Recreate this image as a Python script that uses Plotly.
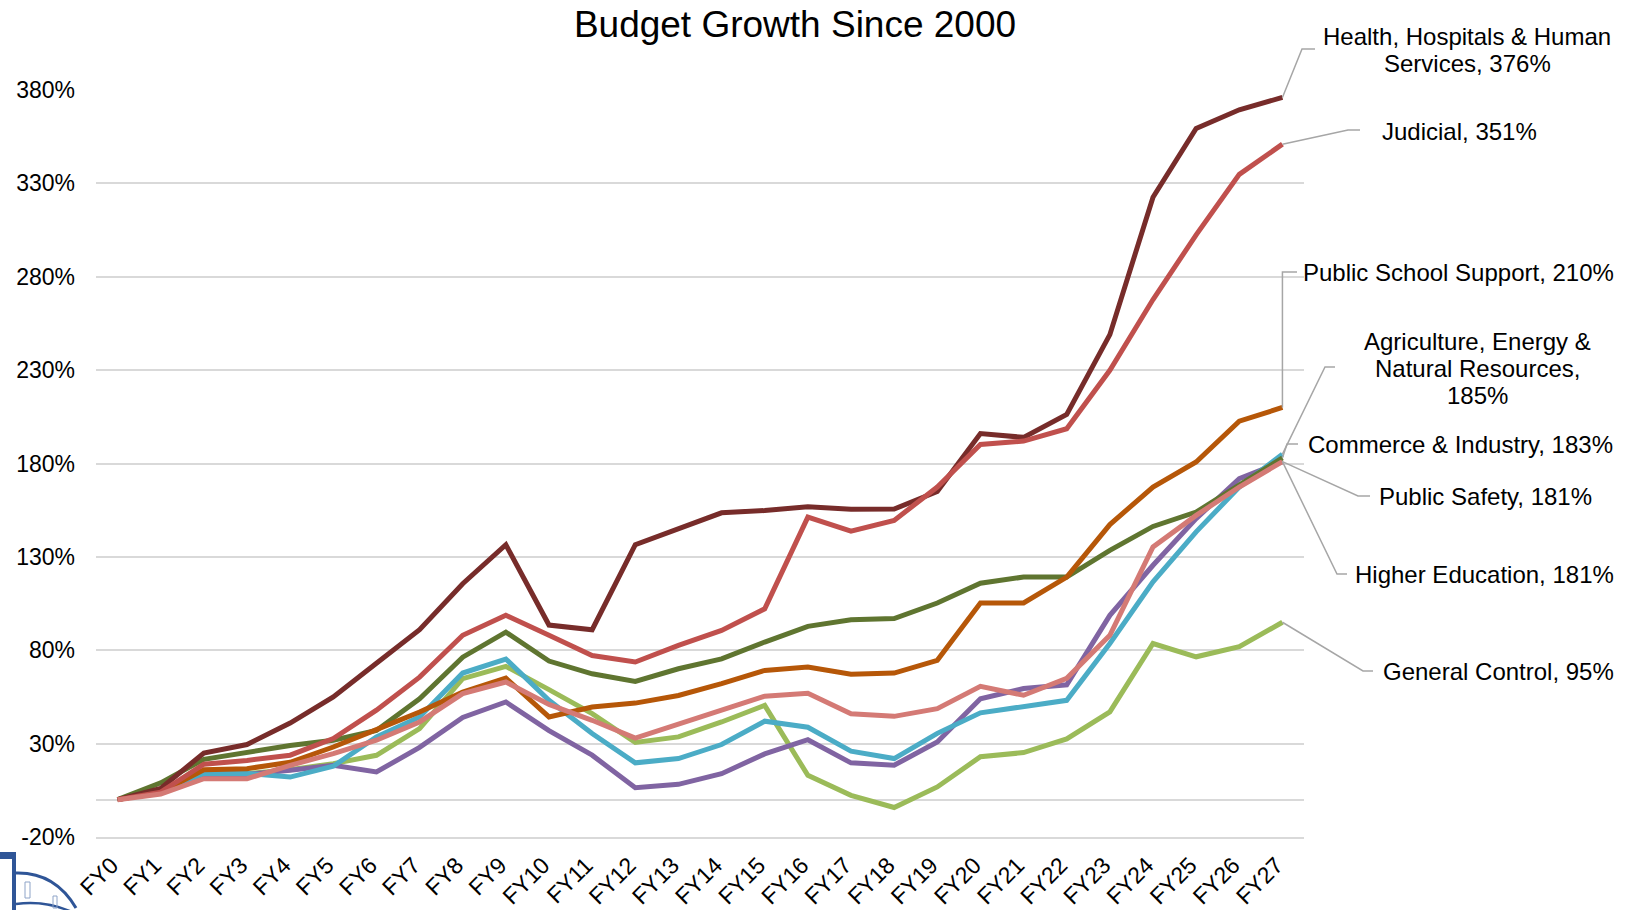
import plotly.graph_objects as go

# Fiscal-year categories and cumulative budget growth since FY0 (percent)
fiscal_years = ["FY0", "FY1", "FY2", "FY3", "FY4", "FY5", "FY6", "FY7", "FY8", "FY9",
                "FY10", "FY11", "FY12", "FY13", "FY14", "FY15", "FY16", "FY17", "FY18",
                "FY19", "FY20", "FY21", "FY22", "FY23", "FY24", "FY25", "FY26", "FY27"]

health_hospitals = [0, 6, 25, 29.5, 41, 55, 73, 91, 115.6, 136.5, 93.5, 91, 136.5, 145, 153.6,
                    154.8, 156.8, 155.5, 155.6, 165, 196, 194, 206.3, 249, 322.6, 359.4, 369.4, 376]
judicial = [0, 4, 19, 21, 23.8, 32.7, 47.9, 65.6, 88, 98.7, 88, 77.2, 73.7, 82.6, 90.6,
            102.2, 151.3, 143.8, 149.5, 167.4, 190.2, 192, 198.6, 229.9, 267.8, 302.4, 334.8, 351]
public_school = [0, 4, 16, 16.6, 20, 28.2, 37.5, 46.9, 57.6, 65.1, 44.3, 49.6, 51.7, 55.8, 62.1,
                 69.2, 71, 67.1, 67.8, 74.6, 105.3, 105.3, 119.2, 147.3, 167.4, 180.8, 202.7, 210]
agriculture = [0, 5, 14, 14, 12.1, 17.9, 33.6, 44.3, 67.8, 75.3, 53.2, 35.4, 19.7, 22, 29.5,
               42, 38.8, 26, 22, 35.5, 46.5, 50, 53.2, 83.6, 116.6, 143.4, 167.4, 185]
commerce = [0, 9, 21.6, 25.5, 29, 31.8, 37, 54, 76.3, 89.7, 74.2, 67.4, 63.3, 70.1, 75.4,
            84.4, 92.8, 96.3, 97, 105.3, 115.9, 119.2, 119.2, 133.5, 146.3, 154, 168.3, 183]
public_safety = [0, 4, 13, 13.5, 15.7, 18.4, 14.8, 28, 44, 52.3, 37, 23.8, 6.4, 8.2, 13.9,
                 24.5, 32.1, 19.7, 18.4, 30.9, 54, 59.5, 61.5, 98.7, 125.5, 150.5, 171.9, 181]
higher_education = [0, 3, 11.2, 11.2, 18.4, 24.6, 31.8, 41.6, 56.8, 63, 51, 42.5, 33, 40.5, 48,
                    55.4, 57, 46, 44.6, 48.7, 60.7, 55.9, 65, 88, 135.3, 152.2, 167.4, 181]
general_control = [0, 4, 13, 14, 16, 19.3, 23.75, 38, 64.8, 71.4, 58.9, 46.1, 30.6, 33.6, 41.6,
                   50.5, 13, 2.3, -4.2, 6.8, 23, 25.2, 32.5, 47, 83.6, 76.5, 81.9, 95]

y_ticks = [-20, 30, 80, 130, 180, 230, 280, 330, 380]

# ---- page geometry (pixels) ----
W, H = 1633, 910
PL, PR, PT, PB = 96, 1304, 90, 837
X_MIN, X_MAX = -0.5, len(fiscal_years) - 0.5
Y_MIN, Y_MAX = -20, 380
FONT = "Arial, Liberation Sans, sans-serif"


def to_paper(px, py):
    """Pixel position on the page -> paper coordinates."""
    return (px - PL) / (PR - PL), (PB - py) / (PB - PT)


def data_to_paper(x, y):
    """Axis value -> paper coordinates (using the fixed axis ranges)."""
    return (x - X_MIN) / (X_MAX - X_MIN), (y - Y_MIN) / (Y_MAX - Y_MIN)


# series: name, values, colour, label lines, label centre (px), leader knee points (px)
series = [
    ("General Control", general_control, "#9BBB59",
     ["General Control, {v}%"], (1498, 671), [(1363, 671), (1373, 671)]),
    ("Public Safety", public_safety, "#8064A2",
     ["Public Safety, {v}%"], (1485, 496), [(1358, 496), (1370, 496)]),
    ("Agriculture, Energy & Natural Resources", agriculture, "#4BACC6",
     ["Agriculture, Energy &", "Natural Resources,", "{v}%"], (1478, 368),
     [(1325, 367), (1335, 367)]),
    ("Commerce & Industry", commerce, "#5F7530",
     ["Commerce & Industry, {v}%"], (1460, 444), [(1287, 444), (1298, 444)]),
    ("Public School Support", public_school, "#B65708",
     ["Public School Support, {v}%"], (1458, 272), [(None, 272), (1297, 272)]),
    ("Health, Hospitals & Human Services", health_hospitals, "#772C2A",
     ["Health, Hospitals & Human", "Services, {v}%"], (1467, 50), [(1302, 49), (1315, 49)]),
    ("Judicial", judicial, "#C0504D",
     ["Judicial, {v}%"], (1459, 131), [(1348, 130), (1360, 130)]),
    ("Higher Education", higher_education, "#D47A75",
     ["Higher Education, {v}%"], (1484, 574), [(1337, 574), (1347, 574)]),
]

x_idx = list(range(len(fiscal_years)))

fig = go.Figure()
shapes = []
annotations = []
LINE_GAP = 27

for name, vals, color, lines, (cx, cy), knees in series:
    fig.add_trace(go.Scatter(x=x_idx, y=vals, mode="lines", name=name,
                             line=dict(color=color, width=5), showlegend=False))
    sx, sy = data_to_paper(x_idx[-1], vals[-1])
    # leader line from the last point to the label
    path = f"M {sx},{sy}"
    for kx, ky in knees:
        qx, qy = to_paper(kx if kx is not None else 0, ky)
        if kx is None:
            qx = sx
        path += f" L {qx},{qy}"
    shapes.append(dict(type="path", xref="paper", yref="paper", path=path,
                       line=dict(color="#A6A6A6", width=1.5), layer="above"))
    n = len(lines)
    for i, ln in enumerate(lines):
        ly = cy + (i - (n - 1) / 2) * LINE_GAP
        px_, py_ = to_paper(cx, ly)
        annotations.append(dict(text=ln.format(v=f"{vals[-1]:.0f}"), xref="paper", yref="paper",
                                x=px_, y=py_, xanchor="center", yanchor="middle",
                                showarrow=False, font=dict(family=FONT, size=24, color="#000")))

# emblem in the lower-left corner
LOGO = "#2F5597"


def pp(px, py):
    a, b = to_paper(px, py)
    return f"{a},{b}"


def prect(x0, y0, x1, y1, **kw):
    a0, b0 = to_paper(x0, y0)
    a1, b1 = to_paper(x1, y1)
    return dict(type="rect", xref="paper", yref="paper", x0=a0, y0=b0, x1=a1, y1=b1,
                layer="above", **kw)


shapes += [
    prect(0, 852, 16, 859, fillcolor=LOGO, line=dict(width=0)),
    prect(12, 852, 16, 912, fillcolor=LOGO, line=dict(width=0)),
    dict(type="path", xref="paper", yref="paper",
         path=f"M {pp(16, 873)} Q {pp(55, 872)} {pp(76, 908)}",
         line=dict(color=LOGO, width=3), layer="above"),
    dict(type="path", xref="paper", yref="paper",
         path=f"M {pp(16, 904)} Q {pp(45, 900)} {pp(72, 912)}",
         line=dict(color=LOGO, width=2.5), layer="above"),
    prect(25, 882, 30, 898, fillcolor="rgba(0,0,0,0)", line=dict(color="#8EA4C8", width=1)),
    prect(53, 896, 57, 908, fillcolor="rgba(0,0,0,0)", line=dict(color="#8EA4C8", width=1)),
]

fig.update_layout(
    width=W, height=H,
    margin=dict(l=PL, r=W - PR, t=PT, b=H - PB, pad=0, autoexpand=False),
    paper_bgcolor="white", plot_bgcolor="white",
    title=dict(text="Budget Growth Since 2000", x=795 / W, xref="container", xanchor="center",
               y=1 - 24 / H, yref="container", yanchor="middle",
               font=dict(family=FONT, size=37, color="#000")),
    xaxis=dict(range=[X_MIN, X_MAX], tickmode="array", tickvals=x_idx, ticktext=fiscal_years,
               tickangle=-45, showgrid=False, zeroline=False, automargin=False,
               showline=True, linecolor="#D9D9D9", linewidth=1.5, ticks="",
               ticklabelstandoff=4, ticklabelshift=-6,
               tickfont=dict(family=FONT, size=23, color="#000")),
    yaxis=dict(range=[Y_MIN, Y_MAX], tickmode="array", tickvals=y_ticks, automargin=False,
               ticktext=[f"{t}%" for t in y_ticks], showgrid=True, gridcolor="#D9D9D9",
               gridwidth=1.5, zeroline=True, zerolinecolor="#D9D9D9", zerolinewidth=1.5,
               showline=False, ticks="", ticklabelstandoff=20,
               tickfont=dict(family=FONT, size=23, color="#000")),
    shapes=shapes, annotations=annotations,
)

fig.write_html("out.html")
